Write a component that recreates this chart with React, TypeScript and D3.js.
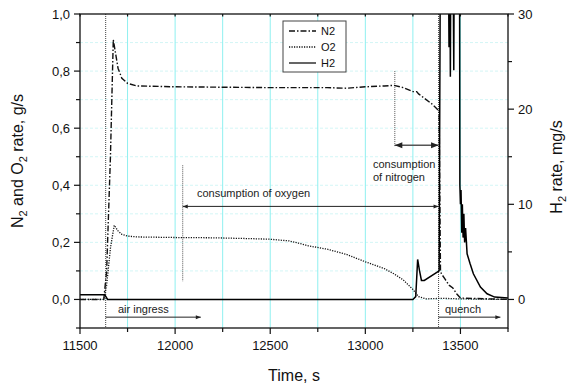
import React from 'react';
import * as d3 from 'd3';

// time axis, s
const n2Time = [11500, 11625, 11640, 11660, 11675, 11685, 11700, 11720, 11750, 11800, 12000, 12500, 12800, 12900, 13000, 13100, 13150, 13200, 13250, 13270, 13280, 13300, 13350, 13388, 13395, 13400, 13420, 13440, 13460, 13480, 13500, 13750];
const n2Rate = [0, 0, 0.1, 0.5, 0.91, 0.87, 0.81, 0.775, 0.757, 0.748, 0.745, 0.742, 0.742, 0.74, 0.745, 0.748, 0.75, 0.742, 0.728, 0.728, 0.72, 0.71, 0.685, 0.66, 0.1, 0.09, 0.07, 0.05, 0.04, 0.02, 0.005, 0];

const o2Time = [11500, 11625, 11640, 11660, 11680, 11700, 11720, 11750, 11800, 12000, 12200, 12400, 12500, 12600, 12650, 12700, 12800, 12900, 13000, 13050, 13100, 13150, 13200, 13250, 13280, 13320, 13400, 13500, 13750];
const o2Rate = [0, 0, 0.05, 0.18, 0.26, 0.24, 0.228, 0.222, 0.219, 0.217, 0.216, 0.213, 0.211, 0.205, 0.197, 0.188, 0.176, 0.158, 0.132, 0.12, 0.108, 0.09, 0.068, 0.035, 0.01, 0.002, 0.004, 0.002, 0];

// H2 in mg/s (right axis), values over 30 are clipped
const h2Time = [11500, 11630, 11645, 13250, 13265, 13275, 13285, 13295, 13310, 13388, 13395, 13435, 13440, 13443, 13447, 13450, 13460, 13465, 13468, 13495, 13497, 13500, 13503, 13507, 13510, 13514, 13518, 13522, 13527, 13535, 13550, 13568, 13605, 13640, 13680, 13750];
const h2Rate = [0.5, 0.5, 0, 0, 0.3, 4.2, 3.0, 2.0, 2.0, 3.0, 40, 40, 26.5, 40, 23.4, 40, 40, 24.1, 40, 40, 12, 10, 11.5, 7, 10, 6.5, 9, 6, 7.5, 4.8, 3.8, 2.7, 1.3, 0.6, 0.25, 0.15];

const xTicks = [11500, 12000, 12500, 13000, 13500];
const yTicks = [0, 0.2, 0.4, 0.6, 0.8, 1.0];
const y2Ticks = [0, 10, 20, 30];

const legendItems = [
  { name: 'N2', dash: '6,2,1.5,2' },
  { name: 'O2', dash: '1.2,1.3' },
  { name: 'H2', dash: '' },
];

const W = 569, H = 385;
const L = 80, R = 508, T = 14, B = 328;
const FONT = 'Arial, "Liberation Sans", sans-serif';

const App = () => {
  const x = d3.scaleLinear().domain([11500, 13750]).range([L, R]);
  const y = d3.scaleLinear().domain([-0.1, 1.0]).range([B, T]);
  const y2 = d3.scaleLinear().domain([-3, 30]).range([B, T]);

  const line = d3.line<[number, number]>().x(d => x(d[0])).y(d => y(d[1]));
  const line2 = d3.line<[number, number]>().x(d => x(d[0])).y(d => y2(d[1]));

  const n2 = line(n2Time.map((t, i) => [t, n2Rate[i]]));
  const o2 = line(o2Time.map((t, i) => [t, o2Rate[i]]));
  const h2 = line2(h2Time.map((t, i) => [t, h2Rate[i]]));

  const vGrid = d3.range(11750, 13750, 250);
  const hGrid = d3.range(-0.1, 1.0, 0.1).map(v => +v.toFixed(2)).filter(v => v > -0.1);
  const xMinor = d3.range(11500, 13751, 250);
  const yMinor = d3.range(-0.1, 1.001, 0.1).map(v => +v.toFixed(2));
  const y2Minor = [5, 15, 25];

  const fmt = (v: number) => v.toFixed(1).replace('.', ',');

  const arrowY = (v: number) => y(v);

  return (
    <svg width={W} height={H} style={{ position: 'absolute', left: 0, top: 0 }} fontFamily={FONT}>
      <defs>
        <clipPath id="plot">
          <rect x={L} y={T} width={R - L} height={B - T} />
        </clipPath>
        <marker id="ah" viewBox="0 0 10 10" refX="10" refY="5" markerWidth="7" markerHeight="5" orient="auto-start-reverse">
          <path d="M0,1 L10,5 L0,9 Z" fill="#222" />
        </marker>
      </defs>
      <rect width={W} height={H} fill="#fff" />

      {/* grid */}
      {hGrid.map(v => (
        <line key={'h' + v} x1={L} x2={R} y1={y(v)} y2={y(v)} stroke="#c8f4f4" strokeWidth={0.8} strokeDasharray="3,2" />
      ))}
      {vGrid.map(v => (
        <line key={'v' + v} x1={x(v)} x2={x(v)} y1={T} y2={B} stroke="#8ff0f0" strokeWidth={1} />
      ))}

      {/* marker lines */}
      <line x1={x(11635)} x2={x(11635)} y1={T} y2={B} stroke="#444" strokeDasharray="1,1" />
      <line x1={x(13385)} x2={x(13385)} y1={T} y2={B} stroke="#444" strokeDasharray="1,1" />
      <line x1={x(12040)} x2={x(12040)} y1={y(0.47)} y2={y(0.063)} stroke="#555" strokeDasharray="1,1" />
      <line x1={x(13155)} x2={x(13155)} y1={y(0.8)} y2={y(0.537)} stroke="#555" strokeDasharray="1,1" />

      {/* series */}
      <g clipPath="url(#plot)" fill="none">
        <path d={o2 ?? ''} stroke="#111" strokeWidth={1.3} strokeDasharray="1.2,1.3" />
        <path d={n2 ?? ''} stroke="#111" strokeWidth={1.4} strokeDasharray="6,2,1.5,2" />
        <path d={h2 ?? ''} stroke="#000" strokeWidth={1.5} />
      </g>

      {/* annotation arrows */}
      <line x1={x(12040)} x2={x(13385)} y1={arrowY(0.326)} y2={arrowY(0.326)} stroke="#222" strokeWidth={1} markerStart="url(#ah)" markerEnd="url(#ah)" />
      <line x1={x(13155)} x2={x(13385)} y1={arrowY(0.54)} y2={arrowY(0.54)} stroke="#555" strokeWidth={1.5} markerStart="url(#ah)" markerEnd="url(#ah)" />
      <line x1={x(11635)} x2={x(12135)} y1={arrowY(-0.062)} y2={arrowY(-0.062)} stroke="#222" strokeWidth={1} markerEnd="url(#ah)" />
      <line x1={x(13385)} x2={x(13710)} y1={arrowY(-0.062)} y2={arrowY(-0.062)} stroke="#222" strokeWidth={1} markerEnd="url(#ah)" />

      <g fontSize={11} fill="#222">
        <text x={197} y={197}>consumption of oxygen</text>
        <text x={373} y={168}>consumption</text>
        <text x={373} y={181}>of nitrogen</text>
        <text x={118} y={313}>air ingress</text>
        <text x={445} y={313}>quench</text>
      </g>

      {/* legend */}
      <rect x={283} y={21} width={63} height={51} fill="#fff" stroke="#444" strokeWidth={1} />
      {legendItems.map((d, i) => (
        <g key={d.name} transform={`translate(289,${31 + i * 16})`}>
          <line x1={0} x2={27} y1={0} y2={0} stroke="#111" strokeWidth={1.3} strokeDasharray={d.dash} />
          <text x={32} y={4} fontSize={11} fill="#111">{d.name}</text>
        </g>
      ))}

      {/* frame */}
      <rect x={L} y={T} width={R - L} height={B - T} fill="none" stroke="#111" strokeWidth={1.3} />

      {/* bottom axis */}
      {xMinor.map(v => (
        <g key={'xt' + v}>
          <line x1={x(v)} x2={x(v)} y1={B} y2={B + (v % 500 === 0 ? 6 : 4)} stroke="#111" strokeWidth={1.2} />
          <line x1={x(v)} x2={x(v)} y1={T} y2={T + 2.5} stroke="#111" strokeWidth={1.2} />
        </g>
      ))}
      {xTicks.map(v => (
        <text key={'xl' + v} x={x(v)} y={350} fontSize={13} textAnchor="middle" fill="#111">{v}</text>
      ))}

      {/* left axis */}
      {yMinor.map(v => (
        <line key={'yt' + v} x1={L - (Math.round(v * 10) % 2 === 0 ? 6 : 4)} x2={L} y1={y(v)} y2={y(v)} stroke="#111" strokeWidth={1.2} />
      ))}
      {yTicks.map(v => (
        <text key={'yl' + v} x={70} y={y(v) + 4.5} fontSize={13} textAnchor="end" fill="#111">{fmt(v)}</text>
      ))}

      {/* right axis */}
      {y2Ticks.concat(y2Minor).map(v => (
        <line key={'y2t' + v} x1={R} x2={R + (v % 10 === 0 ? 6 : 4)} y1={y2(v)} y2={y2(v)} stroke="#111" strokeWidth={1.2} />
      ))}
      {y2Ticks.map(v => (
        <text key={'y2l' + v} x={518} y={y2(v) + 4.5} fontSize={13} fill="#111">{v}</text>
      ))}

      {/* axis titles */}
      <text x={294} y={381} fontSize={16} textAnchor="middle" fill="#111">Time, s</text>
      <text transform="translate(23,161) rotate(-90)" fontSize={16} textAnchor="middle" fill="#111">
        N<tspan fontSize={11} dy={4}>2</tspan><tspan dy={-4}> and O</tspan><tspan fontSize={11} dy={4}>2</tspan><tspan dy={-4}> rate, g/s</tspan>
      </text>
      <text transform="translate(562,167) rotate(-90)" fontSize={16} textAnchor="middle" fill="#111">
        H<tspan fontSize={11} dy={4}>2</tspan><tspan dy={-4}> rate, mg/s</tspan>
      </text>
    </svg>
  );
};

export default App;
